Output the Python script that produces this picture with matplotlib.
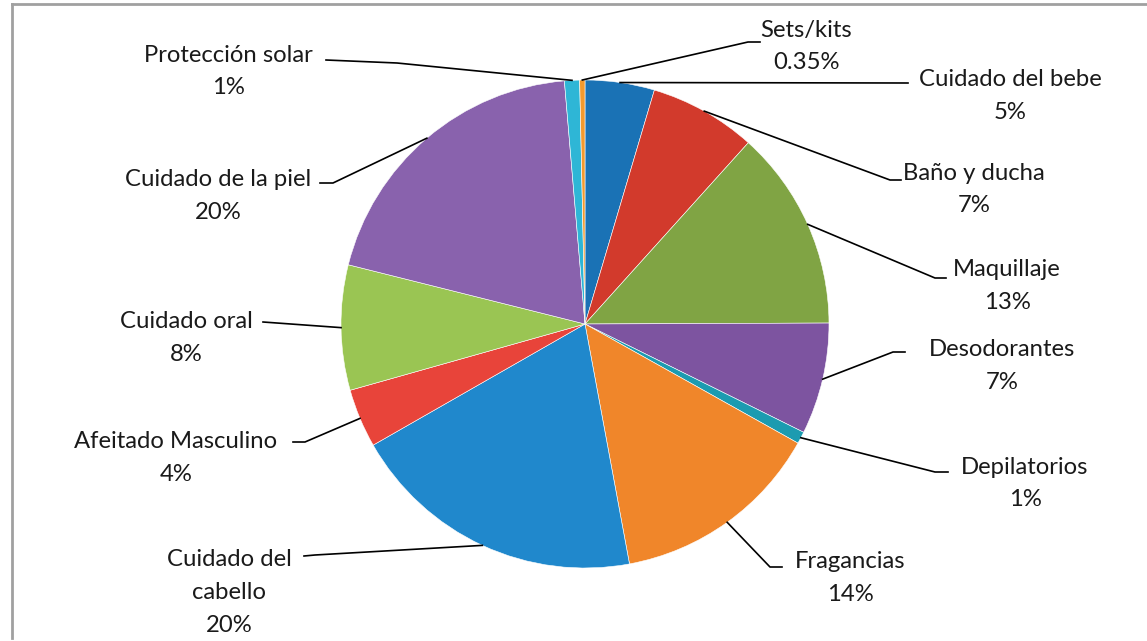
import numpy as np
import matplotlib.pyplot as plt

categories = ['Cuidado del bebe', 'Baño y ducha', 'Maquillaje', 'Desodorantes',
              'Depilatorios', 'Fragancias', 'Cuidado del\ncabello', 'Afeitado Masculino',
              'Cuidado oral', 'Cuidado de la piel', 'Protección solar', 'Sets/kits']
values = [4.6, 7.1, 13.3, 7.4, 0.8, 14.0, 19.7, 3.9, 8.3, 19.8, 1.0, 0.35]
pct_labels = ['5%', '7%', '13%', '7%', '1%', '14%', '20%', '4%', '8%', '20%', '1%', '0.35%']

colors = ['#1a72b5', '#d23a2c', '#80a444', '#7d54a0', '#1c9bb0', '#f0862a',
          '#2088cc', '#e8443a', '#9ac553', '#8962ad', '#2eb6d6', '#f39a2e']

W, H = 1147, 641
cx, cy, R = 585, 324, 244

# label layout in pixel coords (x, y of first text line), elbow points of leader
text_pos = [(1010, 80), (974, 173), (1007, 270), (1002, 350), (1025, 467), (850, 562),
            (229, 560), (176, 442), (186, 322), (218, 180), (228, 55), (806, 30)]
elbows = [[(908, 83)],
          [(890, 180), (901, 180)],
          [(935, 278), (946, 278)],
          [(893, 352), (905, 352)],
          [(935, 472), (948, 472)],
          [(770, 567), (782, 567)],
          [(315, 555), (304, 556)],
          [(305, 442), (293, 442)],
          [(263, 322)],
          [(333, 183), (320, 183)],
          [(397, 63), (326, 60)],
          [(748, 42), (760, 42)]]

plt.rcParams['font.family'] = ['Lato', 'DejaVu Sans']

fig = plt.figure(figsize=(W / 100, H / 100), dpi=100)
ax = fig.add_axes([0, 0, 1, 1])


def py(y):
    return H - y


wedges, _ = ax.pie(values, colors=colors, startangle=90, counterclock=False,
                   center=(cx, py(cy)), radius=R, frame=True,
                   wedgeprops=dict(linewidth=0.4, edgecolor='white'))
ax.set_xlim(0, W)
ax.set_ylim(0, H)
ax.set_aspect('equal')
ax.axis('off')

for i, w in enumerate(wedges):
    mid = np.deg2rad((w.theta1 + w.theta2) / 2)
    x0 = cx + R * np.cos(mid)
    y0 = py(cy) + R * np.sin(mid)
    xs = [x0] + [p[0] for p in elbows[i]]
    ys = [y0] + [py(p[1]) for p in elbows[i]]
    ax.plot(xs, ys, color='black', lw=1.2)
    tx, ty = text_pos[i]
    txt = categories[i] + '\n' + pct_labels[i]
    for k, line in enumerate(txt.split('\n')):
        ax.text(tx, py(ty + 32.5 * k), line, ha='center', va='center',
                fontsize=17.2, color='#1a1a1a')

# chart frame (only top and left edges visible)
ax.plot([12, 12], [py(638), py(4)], color='#a0a0a0', lw=2)
ax.plot([12, W], [py(4), py(4)], color='#a0a0a0', lw=2)

fig.savefig('out.png', dpi=100)
